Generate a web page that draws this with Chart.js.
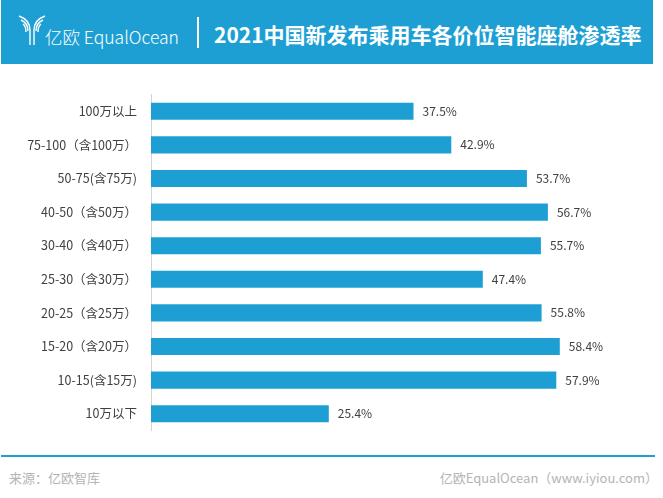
<!DOCTYPE html>
<html>
<head>
<meta charset="utf-8">
<script src="https://cdn.jsdelivr.net/npm/chart.js@4"></script>
<style>
  html, body { margin: 0; padding: 0; background: #fff; }
  body { width: 663px; height: 498px; position: relative; overflow: hidden; font-family: "Noto Sans CJK SC", "Noto Sans", sans-serif; }
  #header { position: absolute; left: 1px; top: 0; width: 652px; height: 64px; background: #1e9fd4; z-index: 2; }
  #logo-icon { position: absolute; left: 17px; top: 14px; }
  #logo-text { position: absolute; left: 44px; top: 24px; color: #fff; font-size: 17.5px; line-height: 26px; font-weight: 300; }
  #divider { position: absolute; left: 196px; top: 17px; width: 2px; height: 31px; background: #fff; }
  #title { position: absolute; left: 213px; top: 19px; color: #fff; font-size: 21px; line-height: 30px; font-weight: bold; white-space: nowrap; }
  #chart { position: absolute; left: 0; top: 94px; }
  #footer-line { position: absolute; left: 1px; top: 455px; width: 654px; height: 2px; background: #1e9fd4; }
  .foot { position: absolute; top: 468px; color: #b4b4b4; font-size: 13px; line-height: 20px; }
  #source { left: 9px; }
  #site { right: 5px; }
</style>
</head>
<body>
<div id="header">
  <svg id="logo-icon" width="28" height="32" viewBox="0 0 28 32">
    <g fill="none" stroke="#fff" stroke-width="1.4">
      <path d="M1 2 Q12 6 12 16 L12 31"/>
      <path d="M3 6 Q10 9 10 17"/>
      <path d="M27 2 Q16 6 16 16 L16 31"/>
      <path d="M25 6 Q18 9 18 17"/>
      <path d="M5 10 Q8 12 8 18"/>
      <path d="M23 10 Q20 12 20 18"/>
    </g>
  </svg>
  <div id="logo-text">亿欧 EqualOcean</div>
  <div id="divider"></div>
  <div id="title">2021中国新发布乘用车各价位智能座舱渗透率</div>
</div>

<canvas id="chart" width="663" height="400"></canvas>

<div id="footer-line"></div>
<div class="foot" id="source">来源：亿欧智库</div>
<div class="foot" id="site">亿欧EqualOcean（www.iyiou.com）</div>

<script>
// price bands, top to bottom
const categories = [
    '100万以上',
    '75-100（含100万）',
    '50-75(含75万)',
    '40-50（含50万）',
    '30-40（含40万）',
    '25-30（含30万）',
    '20-25（含25万）',
    '15-20（含20万）',
    '10-15(含15万)',
    '10万以下'
];
const penetration = [37.5, 42.9, 53.7, 56.7, 55.7, 47.4, 55.8, 58.4, 57.9, 25.4];

// plot box wanted on the page
const plotTop = 94;
const plotHeight = 336;

// draws the % text just past the end of each bar
const valueLabels = {
    id: 'valueLabels',
    afterDatasetsDraw(chart) {
        const ctx = chart.ctx;
        const meta = chart.getDatasetMeta(0);
        ctx.save();
        ctx.font = '12px "Noto Sans CJK SC", "Noto Sans", sans-serif';
        ctx.fillStyle = '#404040';
        ctx.textAlign = 'left';
        ctx.textBaseline = 'middle';
        meta.data.forEach((bar, i) => {
            ctx.fillText(penetration[i].toFixed(1) + '%', bar.x + 9, bar.y);
        });
        ctx.restore();
    }
};

const canvas = document.getElementById('chart');
const chart = new Chart(canvas.getContext('2d'), {
    type: 'bar',
    data: {
        labels: categories,
        datasets: [{
            data: penetration,
            backgroundColor: '#1e9fd4',
            borderWidth: 0,
            categoryPercentage: 1,
            barPercentage: 0.51
        }]
    },
    options: {
        indexAxis: 'y',
        responsive: false,
        maintainAspectRatio: false,
        animation: false,
        devicePixelRatio: 1,
        layout: { padding: { left: 0, right: 22, top: 0, bottom: 0 } },
        scales: {
            x: {
                display: false,
                min: 0,
                max: 70
            },
            y: {
                afterFit(scale) { scale.width = 151; },
                grid: { display: false, drawTicks: false },
                border: { display: true, color: '#d4d4d4', width: 1 },
                ticks: {
                    padding: 14,
                    color: '#404040',
                    font: { family: '"Noto Sans CJK SC", "Noto Sans", sans-serif', size: 12.5 }
                }
            }
        },
        plugins: {
            legend: { display: false },
            tooltip: { enabled: false }
        }
    },
    plugins: [valueLabels]
});

// the y axis adds label padding above/below the plot; grow the canvas so the plot box itself is plotHeight tall
const area = chart.chartArea;
const padTop = area.top;
const padBottom = chart.height - area.bottom;
canvas.style.top = (plotTop - padTop) + 'px';
chart.resize(663, plotHeight + padTop + padBottom);
</script>
</body>
</html>
